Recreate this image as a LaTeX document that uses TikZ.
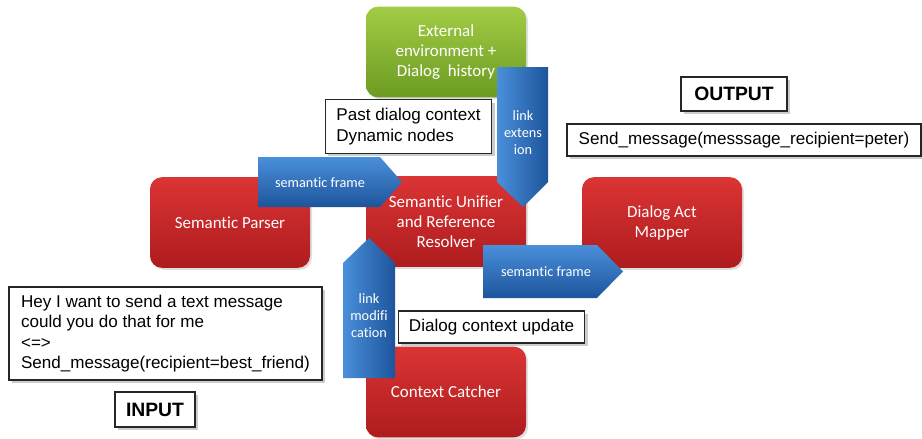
\documentclass[tikz,border=0pt]{standalone}
\usepackage{fontspec}
\setmainfont{Carlito}[Ligatures=NoCommon]
\newfontfamily\arialf{Liberation Sans}
\usetikzlibrary{shadows, positioning}
\definecolor{vermA}{HTML}{DB3434}
\definecolor{vermB}{HTML}{AE1C1E}
\definecolor{verdeA}{HTML}{A2CC45}
\definecolor{verdeB}{HTML}{6C9B22}
\definecolor{azulA}{HTML}{4A8FDA}
\definecolor{azulB}{HTML}{1D559C}
\tikzset{
  mod/.style = {rounded corners=9pt, top color=vermA, bottom color=vermB,
    text=white, align=center, minimum width=120pt, minimum height=68pt,
    inner sep=0pt, font=\fontsize{12.7}{15}\selectfont,
    drop shadow={shadow xshift=1.5pt, shadow yshift=-1.5pt, opacity=0.25}},
  amb/.style = {mod, top color=verdeA, bottom color=verdeB},
  cx/.style = {draw=black!85, fill=white, line width=0.8pt, align=left,
    inner sep=0pt, font=\arialf\fontsize{12.8}{15.4}\selectfont,
    drop shadow={shadow xshift=2pt, shadow yshift=-2pt, opacity=0.4}},
  tit/.style = {cx, font=\arialf\bfseries\fontsize{14.5}{17}\selectfont},
  bseta/.style = {top color=azulA, bottom color=azulB},
  vseta/.style = {left color=azulA, right color=azulB},
  rseta/.style = {text=white, align=center, inner sep=0pt,
    font=\fontsize{10.7}{12.75}\selectfont}
}
\begin{document}
\begin{tikzpicture}[x=0.75pt, y=-0.75pt]
  \useasboundingbox (0,0) rectangle (922,439);
  \node [amb] (amb) at (446,52) {External\\environment +\\Dialog\ \ history};
  \node [mod] (unif) at (446,221.5) {Semantic Unifier\\and Reference\\Resolver};
  \node [mod] (pars) at (230,222.5) {Semantic Parser};
  \node [mod] (dam) at (662,222.5) {Dialog Act\\Mapper};
  \node [mod] (ctx) at (446,392) {Context Catcher};

  \path [bseta] (258,157) -- (380,157) -- (402,182) -- (380,207) -- (258,207) -- cycle;
  \node [rseta] (sf1) at (320,183) {semantic frame};
  \path [vseta] (497,67) -- (548,67) -- (548,182) -- (523,207) -- (497,182) -- cycle;
  \node [rseta] (lext) at (523,133) {link\\extens\\ion};
  \path [bseta] (483,245) -- (597,245) -- (623,271.5) -- (597,298) -- (483,298) -- cycle;
  \node [rseta] (sf2) at (546,272) {semantic frame};
  \path [vseta] (343,378) -- (395,378) -- (395,263) -- (369,238) -- (343,263) -- cycle;
  \node [rseta] (lmod) at (369,316) {link\\modifi\\cation};

  \node [cx, minimum width=125pt, minimum height=40pt] (past) at (408.5,126.5)
    {Past dialog context\\Dynamic nodes};
  \node [tit, minimum width=79.5pt, minimum height=25.5pt] (out) at (734,94) {OUTPUT};
  \node [cx, minimum width=265.5pt, minimum height=24pt] (sm) at (744,140)
    {Send\_message(messsage\_recipient=peter)};
  \node [cx, minimum width=140pt, minimum height=24pt] (upd) at (491.5,327)
    {Dialog context update};
  \node [cx, minimum width=234.75pt, minimum height=69.75pt] (inp) at (165.5,333.5)
    {Hey I want to send a text message\\could you do that for me\\<=>\\Send\_message(recipient=best\_friend)};
  \node [tit, minimum width=60pt, minimum height=26.25pt] (in) at (155,409.5) {INPUT};
\end{tikzpicture}
\end{document}
